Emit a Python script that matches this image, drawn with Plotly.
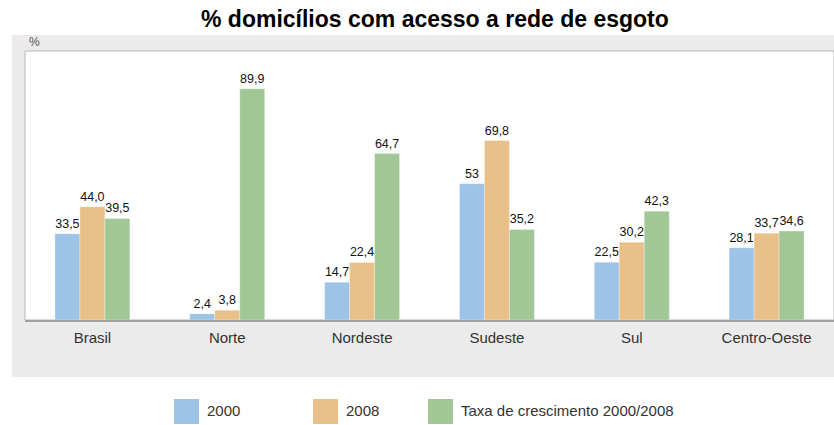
import plotly.graph_objects as go

regioes = ["Brasil", "Norte", "Nordeste", "Sudeste", "Sul", "Centro-Oeste"]
v2000 = [33.5, 2.4, 14.7, 53, 22.5, 28.1]
v2008 = [44.0, 3.8, 22.4, 69.8, 30.2, 33.7]
taxa = [39.5, 89.9, 64.7, 35.2, 42.3, 34.6]

series = ["2000", "2008", "Taxa de crescimento 2000/2008"]
cores = ["#9dc3e6", "#e9c089", "#a1c796"]


def rotulo(v):
    # 53 aparece sem casa decimal no original
    if isinstance(v, int):
        return str(v)
    return f"{v:.1f}".replace(".", ",")


W, H = 834, 425
L, R, T, B = 25, 0, 51, 105
pw, ph = W - L - R, H - T - B


def px(x):
    return (x - L) / pw


def py(y):
    return (H - B - y) / ph


FONTE = "Liberation Sans, Arial"

fig = go.Figure()
for nome, vals, cor in zip(series, [v2000, v2008, taxa], cores):
    fig.add_trace(go.Bar(
        x=regioes, y=vals, name=nome,
        marker=dict(color=cor, line=dict(color="rgba(255,255,255,0.6)", width=0.5)),
        text=[rotulo(v) for v in vals], textposition="outside",
        textfont=dict(family=FONTE, size=12.5, color="#111"),
        constraintext="none", cliponaxis=False,
    ))

shapes = [
    # painel cinza
    dict(type="rect", xref="paper", yref="paper", x0=px(12), x1=px(840), y0=py(377), y1=py(35),
         fillcolor="#ebebeb", line=dict(width=0), layer="below"),
    # area branca do grafico
    dict(type="rect", xref="paper", yref="paper", x0=0, x1=1, y0=0, y1=1,
         fillcolor="white", line=dict(color="#b5b5b5", width=1), layer="below"),
]
annotations = [
    dict(text="<b>% domicílios com acesso a rede de esgoto</b>", xref="paper", yref="paper",
         x=px(435), y=py(19), showarrow=False, xanchor="center", yanchor="middle",
         font=dict(family=FONTE, size=23, color="#000")),
    dict(text="%", xref="paper", yref="paper", x=px(27), y=py(42), showarrow=False,
         xanchor="left", yanchor="middle",
         font=dict(family=FONTE, size=12, color="#555")),
]

# legenda desenhada embaixo
leg_x = [174, 313, 428]
for nome, cor, lx in zip(series, cores, leg_x):
    shapes.append(dict(type="rect", xref="paper", yref="paper", x0=px(lx), x1=px(lx + 25),
                       y0=py(424), y1=py(399), fillcolor=cor, line=dict(width=0)))
    annotations.append(dict(text=nome, xref="paper", yref="paper", x=px(lx + 31), y=py(411),
                            showarrow=False, xanchor="left", yanchor="middle",
                            font=dict(family=FONTE, size=15, color="#333")))

fig.update_layout(
    width=W, height=H,
    margin=dict(l=L, r=R, t=T, b=B),
    paper_bgcolor="white", plot_bgcolor="rgba(0,0,0,0)",
    barmode="group", bargap=0.444, bargroupgap=0,
    showlegend=False, hovermode=False,
    shapes=shapes, annotations=annotations,
    xaxis=dict(showgrid=False, showline=True, linecolor="#a0a0a0", linewidth=1.5, ticks="",
               ticklabelstandoff=3, fixedrange=True,
               tickfont=dict(family=FONTE, size=15, color="#333")),
    yaxis=dict(range=[0, 104.6], visible=False, showgrid=False, zeroline=False, fixedrange=True),
)

# tira a margem padrao do body para a figura ocupar a janela toda
fig.write_html("out.html", config={"displayModeBar": False},
               post_script="document.body.style.margin='0';document.body.style.overflow='hidden';")
